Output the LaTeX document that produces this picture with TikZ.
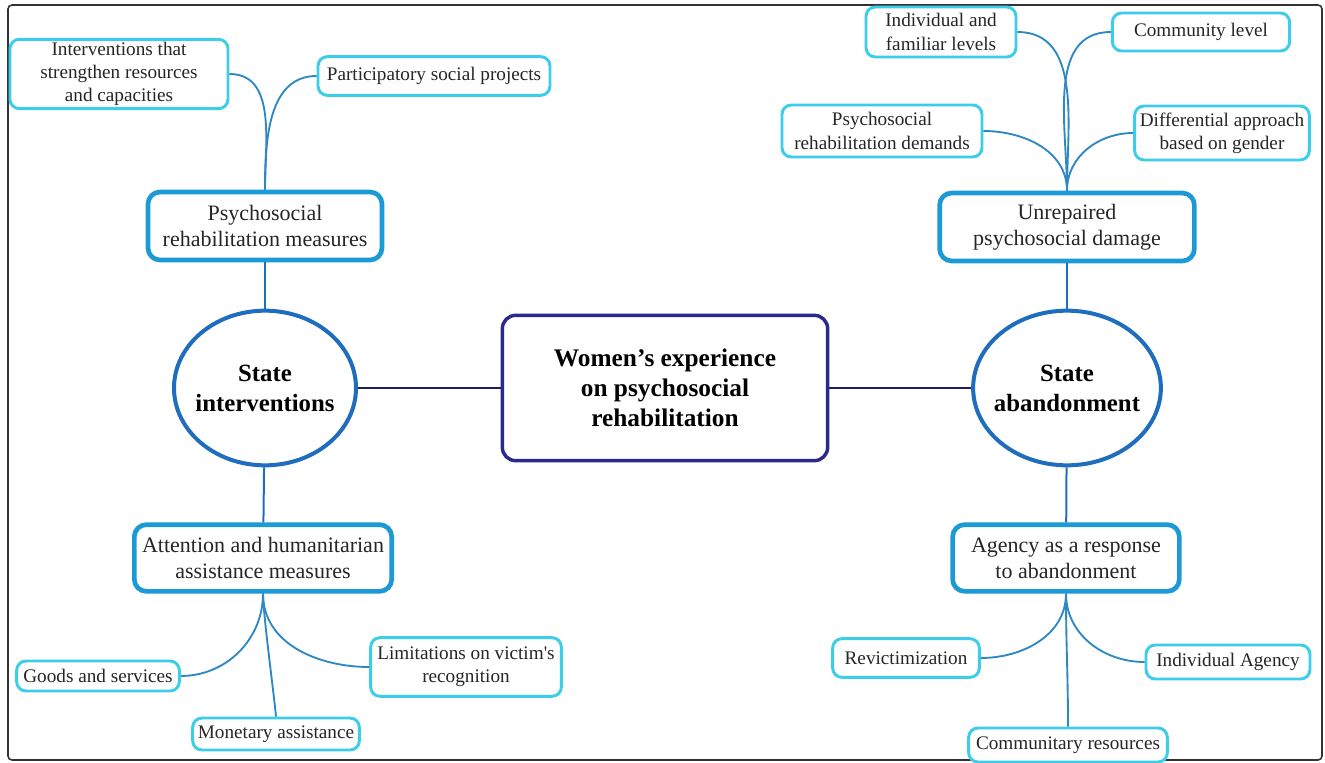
\documentclass[tikz,border=0pt]{standalone}
\usepackage{fontspec}
\setmainfont{Liberation Serif}
\usetikzlibrary{shapes.geometric}
\definecolor{leafc}{HTML}{3CCDEB}
\definecolor{midc}{HTML}{1C9AD6}
\definecolor{ovalc}{HTML}{1F6DBE}
\definecolor{corec}{HTML}{2B2A8A}
\definecolor{linkc}{HTML}{2E88C4}
\definecolor{navyc}{HTML}{1E1D6A}
\definecolor{framec}{HTML}{333333}

\begin{document}
\begin{tikzpicture}[x=0.75pt, y=-0.75pt]
			\tikzstyle{every node}=[align=center, inner sep=1pt]
			\tikzstyle{leaf}=[draw=leafc, line width=2.2pt, rounded corners=7pt, fill=white, text=black!85, font=\fontsize{14.4}{17.4}\selectfont]
			\tikzstyle{mid}=[draw=midc, line width=3.5pt, rounded corners=9pt, fill=white, text=black!85, font=\fontsize{16.5}{19.5}\selectfont]
			\tikzstyle{oval}=[draw=ovalc, line width=3pt, ellipse, inner xsep=-5pt, fill=white, font=\fontsize{18.6}{22.5}\selectfont\bfseries]
			\tikzstyle{core}=[draw=corec, line width=2.6pt, rounded corners=10pt, fill=white, font=\fontsize{19}{22.5}\selectfont\bfseries]
			\tikzstyle{link}=[draw=linkc, line width=1.4pt]
			\tikzstyle{trunk}=[draw=ovalc, line width=1.5pt]
			\tikzstyle{spine}=[draw=navyc, line width=2pt]
			\useasboundingbox (0,0) rectangle (1325,763);
			\draw[framec, line width=1.2pt, rounded corners=3pt] (8,5) rectangle (1322,760);

				\node[core, minimum width=244pt, minimum height=109pt] (women) at (665,388) {Women’s experience\\ on psychosocial\\ rehabilitation};
				\node[oval, minimum width=136.5pt, minimum height=116pt] (stint) at (265,388) {State\\ interventions};
				\node[oval, minimum width=139pt, minimum height=116pt] (stab) at (1067,388) {State\\ abandonment};

				\node[mid, minimum width=175.5pt, minimum height=51pt] (psymeas) at (265,226) {Psychosocial\\ rehabilitation measures};
				\node[mid, minimum width=193pt, minimum height=50pt] (humanit) at (263,558) {Attention and humanitarian\\ assistance measures};
				\node[mid, minimum width=191pt, minimum height=51pt] (damage) at (1067,227) {Unrepaired\\ psychosocial damage};
				\node[mid, minimum width=170pt, minimum height=50pt] (agency) at (1066,558) {Agency as a response\\ to abandonment};

				\node[leaf, minimum width=163.5pt, minimum height=52pt] (strength) at (119,74) {Interventions that\\ strengthen resources\\ and capacities};
				\node[leaf, minimum width=174pt, minimum height=29pt] (projects) at (434,76) {Participatory social projects};
				\node[leaf, minimum width=112.5pt, minimum height=37.5pt] (indfam) at (941,32) {Individual and\\ familiar levels};
				\node[leaf, minimum width=133pt, minimum height=28.5pt] (commlev) at (1201,32) {Community level};
				\node[leaf, minimum width=150pt, minimum height=39pt] (demands) at (882,131) {Psychosocial\\ rehabilitation demands};
				\node[leaf, minimum width=131pt, minimum height=40.5pt] (gender) at (1222,133) {Differential approach\\ based on gender};
				\node[leaf, minimum width=122pt, minimum height=22.5pt] (goods) at (98,676) {Goods and services};
				\node[leaf, minimum width=143pt, minimum height=44pt] (limits) at (466,667) {Limitations on victim\textquotesingle s\\ recognition};
				\node[leaf, minimum width=125pt, minimum height=24pt] (money) at (276,734) {Monetary assistance};
				\node[leaf, minimum width=110pt, minimum height=29pt] (revict) at (906,658) {Revictimization};
				\node[leaf, minimum width=123pt, minimum height=25.5pt] (indag) at (1228,662) {Individual Agency};
				\node[leaf, minimum width=149pt, minimum height=25.5pt] (commres) at (1068,745) {Communitary resources};

				\draw[spine]  (stint) to (women);
				\draw[spine]  (women) to (stab);
				\draw[trunk]  (psymeas) to (stint);
				\draw[trunk]  (stint) to (humanit);
				\draw[trunk]  (damage) to (stab);
				\draw[trunk]  (stab) to (agency);

				\draw[link]  (strength.east) to[out=0, in=90] (psymeas.north);
				\draw[link]  (projects.west) to[out=180, in=90] (psymeas.north);
				\draw[link]  (indfam.east) to[out=0, in=90] (damage.north);
				\draw[link]  (commlev.west) to[out=180, in=90] (damage.north);
				\draw[link]  (demands.east) to[out=0, in=90] (damage.north);
				\draw[link]  (gender.west) to[out=180, in=90] (damage.north);
				\draw[link]  (goods.east) to[out=0, in=-90] (humanit.south);
				\draw[link]  (money.north) to[out=95, in=-90, looseness=0.4] (humanit.south);
				\draw[link]  (limits.west) to[out=180, in=-90] (humanit.south);
				\draw[link]  (revict.east) to[out=0, in=-90] (agency.south);
				\draw[link]  (commres.north) to[out=90, in=-90] (agency.south);
				\draw[link]  (indag.west) to[out=180, in=-90] (agency.south);
\end{tikzpicture}
\end{document}
